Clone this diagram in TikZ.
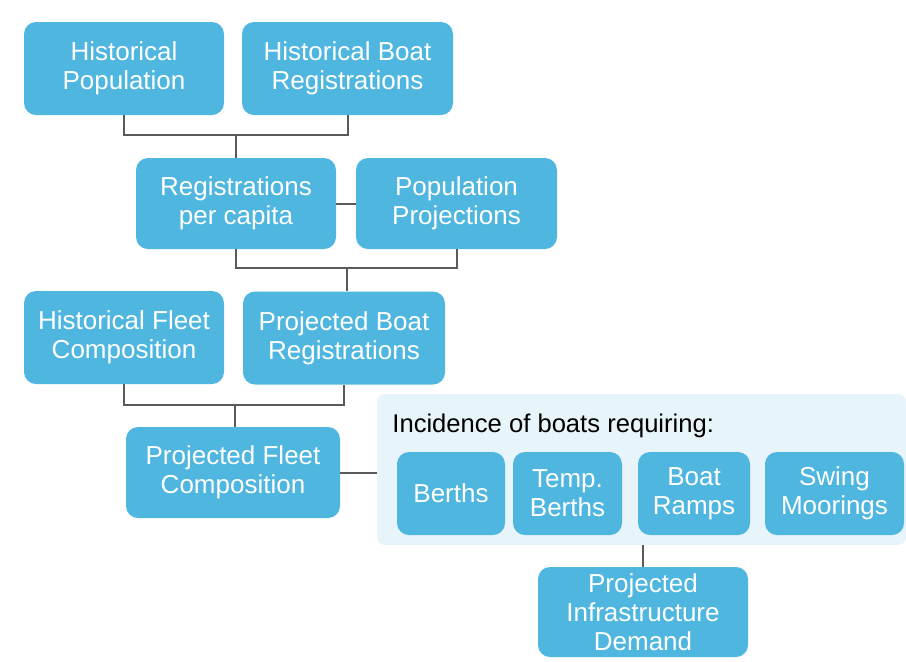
\documentclass[tikz,border=0pt]{standalone}
\usepackage{fontspec}
\setmainfont{Liberation Sans}
\usepackage{xcolor}
\usepackage{tikz}
\definecolor{boxblue}{HTML}{4FB6DF}
\definecolor{panelblue}{HTML}{E7F4FA}
\definecolor{linegray}{HTML}{5A5A5A}
\tikzset{every node/.append style={font=\fontsize{13}{14.5}\selectfont}}
\tikzset{
  stage/.style={fill=boxblue, text=white, rounded corners=6pt, align=center,
    inner sep=0pt},
  link/.style={draw=linegray, line width=1pt},
}

\begin{document}
\begin{tikzpicture}[x=0.5pt, y=-0.5pt]
    \useasboundingbox (0,0) rectangle (906,661);
    % shaded group
    \node[fill=panelblue, rounded corners=4pt, minimum width=264.5pt, minimum height=75.5pt, inner sep=0pt] (panel) at (641.5,469.5) {};
    \node[anchor=base west, inner sep=0pt, text=black, font=\fontsize{12.8}{14.5}\selectfont] (incid) at (392,432) {Incidence of boats requiring:};
    % boxes
    \node[stage, minimum width=100pt, minimum height=46.5pt] (hpop) at (124,68.5) {Historical\\Population};
    \node[stage, minimum width=105.5pt, minimum height=46.5pt] (hreg) at (347.5,68.5) {Historical Boat\\Registrations};
    \node[stage, minimum width=100pt, minimum height=45.5pt] (rpc) at (236,203.5) {Registrations\\per capita};
    \node[stage, minimum width=100.5pt, minimum height=45.5pt] (popproj) at (456.5,203.5) {Population\\Projections};
    \node[stage, minimum width=100pt, minimum height=46.5pt] (hfleet) at (124,337.5) {Historical Fleet\\Composition};
    \node[stage, minimum width=101pt, minimum height=46.5pt] (pbreg) at (344,338) {Projected Boat\\Registrations};
    \node[stage, minimum width=107pt, minimum height=45.5pt] (pfleet) at (233,472.5) {Projected Fleet\\Composition};
    \node[stage, minimum width=54pt, minimum height=41.5pt] (berths) at (451,493.5) {Berths};
    \node[stage, minimum width=54.5pt, minimum height=41.5pt] (temp) at (567.5,493.5) {Temp.\\Berths};
    \node[stage, minimum width=56pt, minimum height=41.5pt] (ramps) at (694,493.5) {Boat\\Ramps};
    \node[stage, minimum width=69.5pt, minimum height=41.5pt] (swing) at (834.5,493.5) {Swing\\Moorings};
    \node[stage, minimum width=105pt, minimum height=45pt] (pid) at (643,612) {Projected\\Infrastructure\\Demand};
    % connectors
    \coordinate (j1) at (236,135);
    \coordinate (j2) at (347,268);
    \coordinate (j3) at (235,405);
    \draw[link] (hpop.south) |- (j1) -| (hreg.south);
    \draw[link] (j1) -- (j1 |- rpc.north);
    \draw[link] (rpc.east) -- (popproj.west);
    \draw[link] (rpc.south) |- (j2) -| (popproj.south);
    \draw[link] (j2) -- (j2 |- pbreg.north);
    \draw[link] (hfleet.south) |- (j3) -| (pbreg.south);
    \draw[link] (j3) -- (j3 |- pfleet.north);
    \draw[link] (pfleet.east) -- (pfleet.east -| panel.west);
    \draw[link] (pid.north |- panel.south) -- (pid.north);
\end{tikzpicture}
\end{document}
